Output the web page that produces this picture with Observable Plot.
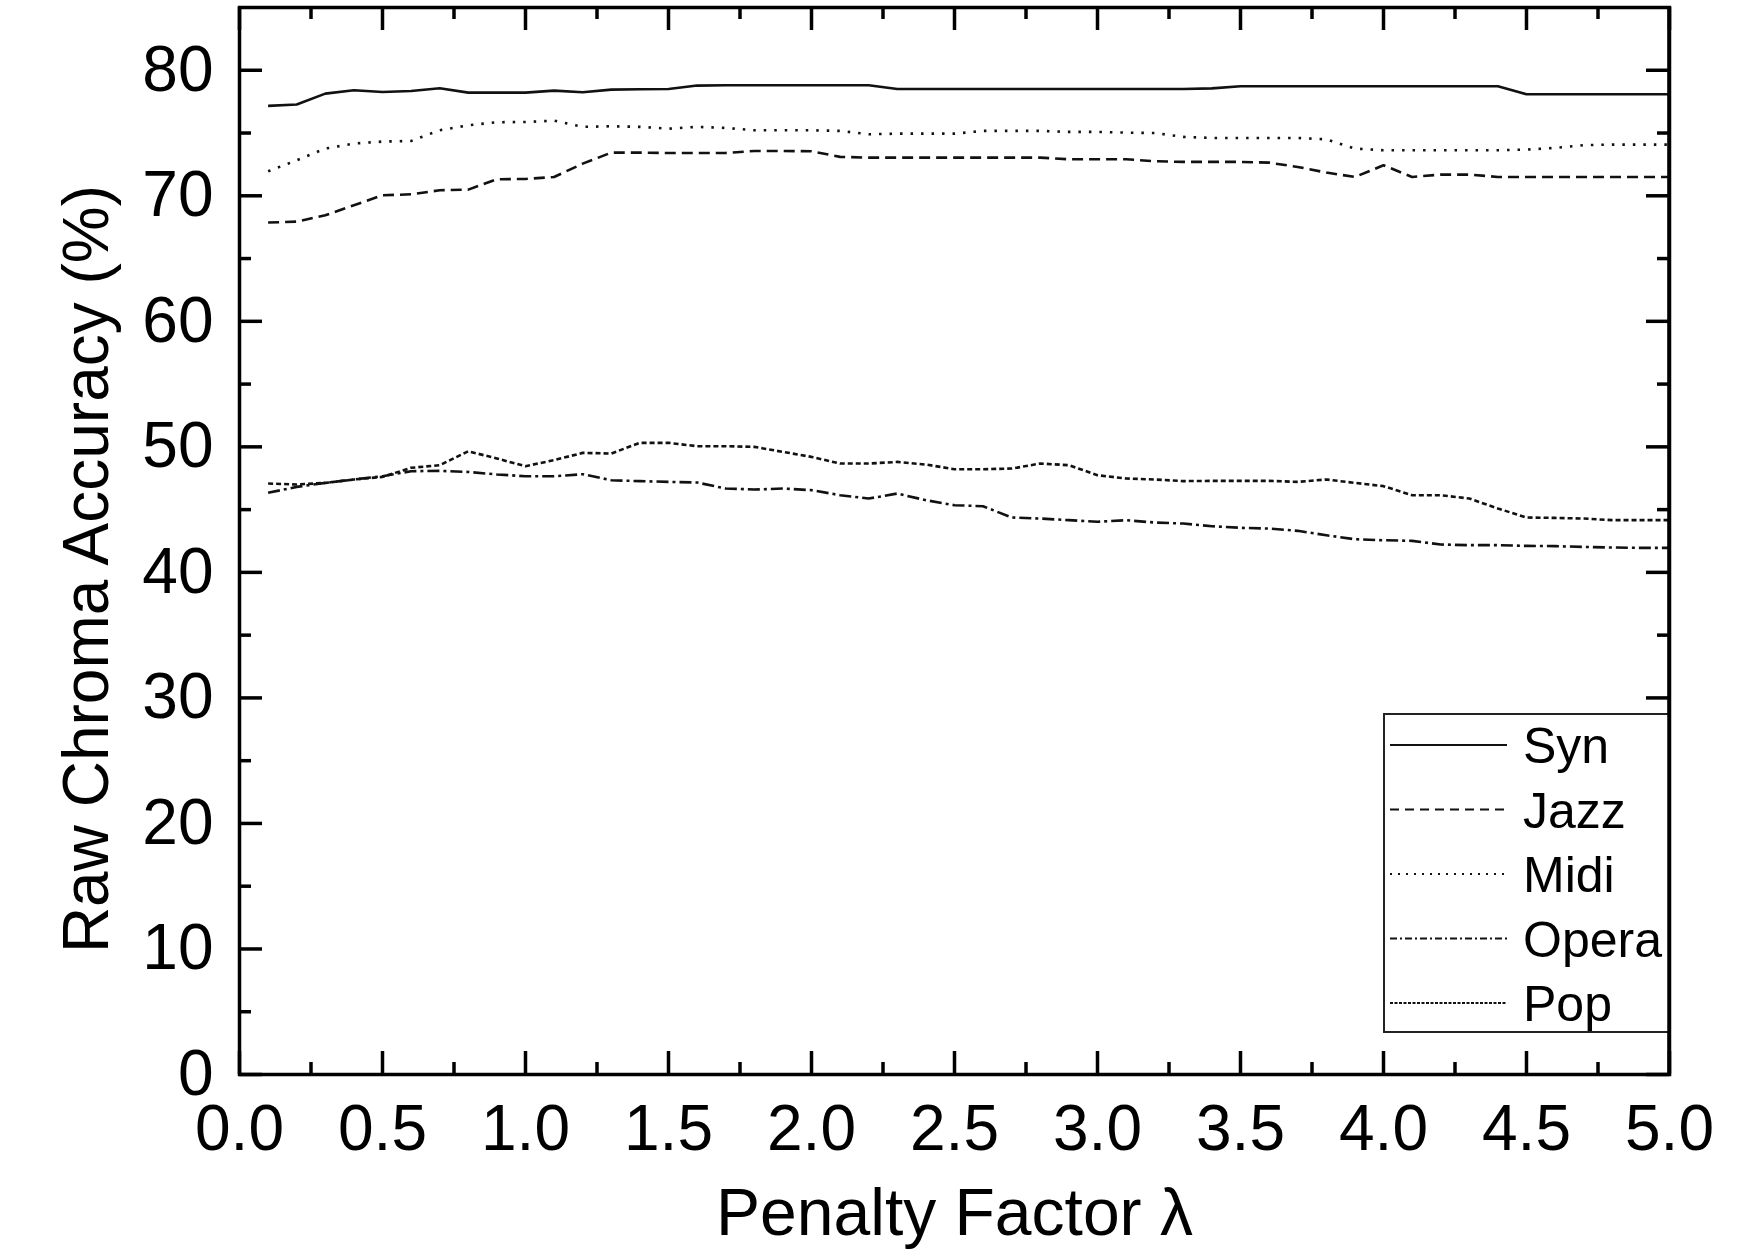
<!DOCTYPE html>
<html><head><meta charset="utf-8">
<script src="https://cdn.jsdelivr.net/npm/d3@7"></script>
<script src="https://cdn.jsdelivr.net/npm/@observablehq/plot@0.6"></script>
<style>html,body{margin:0;padding:0;background:#fff;overflow:hidden}</style>
</head><body><div id="chart"></div>
<script>
const lambda = [0.1,0.2,0.3,0.4,0.5,0.6,0.7,0.8,0.9,1.0,
  1.1,1.2,1.3,1.4,1.5,1.6,1.7,1.8,1.9,2.0,
  2.1,2.2,2.3,2.4,2.5,2.6,2.7,2.8,2.9,3.0,
  3.1,3.2,3.3,3.4,3.5,3.6,3.7,3.8,3.9,4.0,
  4.1,4.2,4.3,4.4,4.5,4.6,4.7,4.8,4.9,5.0];
const syn = [77.16,77.27,78.14,78.41,78.27,78.35,78.57,78.22,78.22,78.22,
  78.38,78.25,78.46,78.49,78.51,78.78,78.81,78.81,78.81,78.81,
  78.81,78.81,78.51,78.51,78.51,78.51,78.51,78.51,78.51,78.51,
  78.51,78.51,78.51,78.56,78.73,78.73,78.73,78.73,78.73,78.73,
  78.73,78.73,78.73,78.73,78.09,78.09,78.09,78.09,78.09,78.09];
const jazz = [67.87,67.94,68.45,69.25,70.04,70.12,70.44,70.49,71.32,71.34,
  71.5,72.56,73.44,73.44,73.41,73.41,73.41,73.57,73.57,73.55,
  73.1,73.04,73.04,73.04,73.04,73.04,73.04,73.04,72.91,72.91,
  72.91,72.75,72.7,72.7,72.7,72.64,72.3,71.85,71.5,72.43,
  71.5,71.69,71.69,71.5,71.5,71.5,71.5,71.5,71.5,71.5];
const midi = [71.95,72.83,73.76,74.16,74.32,74.37,75.22,75.62,75.86,75.88,
  75.99,75.49,75.54,75.49,75.35,75.49,75.41,75.22,75.22,75.22,
  75.17,74.9,74.95,74.95,74.95,75.17,75.17,75.17,75.09,75.09,
  75.03,75.0,74.69,74.61,74.61,74.61,74.61,74.5,73.76,73.63,
  73.63,73.63,73.63,73.63,73.68,73.81,74.03,74.08,74.08,74.08];
const opera = [46.34,46.81,47.13,47.4,47.66,48.06,48.09,48.0,47.8,47.66,
  47.66,47.82,47.34,47.27,47.21,47.16,46.68,46.6,46.68,46.55,
  46.15,45.88,46.28,45.75,45.35,45.27,44.37,44.29,44.16,44.03,
  44.16,43.97,43.89,43.68,43.55,43.49,43.31,42.96,42.64,42.56,
  42.51,42.22,42.17,42.17,42.11,42.09,42.03,41.98,41.95,41.95];
const pop = [47.08,47.0,47.13,47.4,47.61,48.33,48.54,49.65,49.07,48.46,
  48.94,49.52,49.47,50.32,50.32,50.05,50.05,50.0,49.6,49.2,
  48.67,48.67,48.8,48.59,48.22,48.22,48.27,48.67,48.54,47.74,
  47.48,47.4,47.27,47.29,47.29,47.29,47.21,47.4,47.13,46.87,
  46.15,46.15,45.88,45.09,44.37,44.34,44.29,44.16,44.16,44.16];
const seriesNames = ["Syn","Jazz","Midi","Opera","Pop"];
const seriesValues = [syn, jazz, midi, opera, pop];
const xTicks = [0,0.5,1.0,1.5,2.0,2.5,3.0,3.5,4.0,4.5,5.0];
const xMinorTicks = [0.25,0.75,1.25,1.75,2.25,2.75,3.25,3.75,4.25,4.75];
const yTicks = [0,10,20,30,40,50,60,70,80];
const yMinorTicks = [5,15,25,35,45,55,65,75];
const xTitle = "Penalty Factor λ";
const yTitle = "Raw Chroma Accuracy (%)";

// styles
const dashes = {Syn: null, Jazz: "11,6", Midi: "2.5,8", Opera: "12,4,3,4", Pop: "5,3"};
const legendDashes = {Syn: null, Jazz: "9,6", Midi: "2,6", Opera: "7,3,2,3", Pop: "3,1.5"};
const W = 1752, H = 1255;
const mL = 239, mR = 83, mT = 7, mB = 181;
const fw = W - mL - mR, fh = H - mT - mB;
const major = 23, minor = 12;
const font = "'Liberation Sans', Arial, Helvetica, sans-serif";

const rows = [];
seriesNames.forEach((s, k) => lambda.forEach((x, i) => rows.push({series: s, x, y: seriesValues[k][i]})));

const tickStyle = {stroke: "#000", strokeWidth: 3.5};
const marks = [
  Plot.tickX(xTicks, {x: d => d, insetTop: fh - major, ...tickStyle}),
  Plot.tickX(xMinorTicks, {x: d => d, insetTop: fh - minor, ...tickStyle}),
  Plot.tickX(xTicks, {x: d => d, insetBottom: fh - major, ...tickStyle}),
  Plot.tickX(xMinorTicks, {x: d => d, insetBottom: fh - minor, ...tickStyle}),
  Plot.tickY(yTicks, {y: d => d, insetRight: fw - major, ...tickStyle}),
  Plot.tickY(yMinorTicks, {y: d => d, insetRight: fw - minor, ...tickStyle}),
  Plot.tickY(yTicks, {y: d => d, insetLeft: fw - major, ...tickStyle}),
  Plot.tickY(yMinorTicks, {y: d => d, insetLeft: fw - minor, ...tickStyle}),
  Plot.axisX(xTicks, {tickSize: 0, tickPadding: 30, tickFormat: d3.format(".1f"), fontSize: 64, label: null, fill: "#000"}),
  Plot.axisY(yTicks, {tickSize: 0, tickPadding: 26, fontSize: 64, label: null, fill: "#000"}),
  ...seriesNames.map(s => Plot.line(rows.filter(r => r.series === s), {
    x: "x", y: "y", stroke: "#111", strokeWidth: 2.6,
    strokeDasharray: dashes[s], strokeLinecap: "butt", strokeLinejoin: "round", curve: "linear"
  })),
  Plot.frame({stroke: "#000", strokeWidth: 3.5}),
  Plot.text([xTitle], {text: d => d, frameAnchor: "bottom", textAnchor: "middle", lineAnchor: "bottom", dy: 160, fontSize: 66, fill: "#000"}),
  Plot.text([yTitle], {text: d => d, frameAnchor: "left", textAnchor: "middle", lineAnchor: "bottom", rotate: -90, dx: -132, dy: 28, fontSize: 64, fill: "#000"})
];

const svg = Plot.plot({
  width: W, height: H,
  marginLeft: mL, marginRight: mR, marginTop: mT, marginBottom: mB,
  x: {domain: [0, 5]},
  y: {domain: [0, 85]},
  style: {fontFamily: font, background: "#fff", color: "#000", overflow: "visible"},
  marks
});

// legend box (inside the frame, lower right)
const lg = d3.select(svg).append("g").attr("font-family", font).attr("text-anchor", "start");
const bx = 1384, by = 714, bw = W - mR - bx, bh = 1032 - 714;
lg.append("rect").attr("x", bx).attr("y", by).attr("width", bw).attr("height", bh)
  .attr("fill", "#fff").attr("stroke", "#222").attr("stroke-width", 2);
seriesNames.forEach((s, i) => {
  const yy = 745 + i * 64.5;
  lg.append("line").attr("x1", 1390).attr("x2", 1507).attr("y1", yy).attr("y2", yy)
    .attr("stroke", "#111").attr("stroke-width", 1.8)
    .attr("stroke-dasharray", legendDashes[s]);
  lg.append("text").attr("x", 1523).attr("y", yy + 18).attr("font-size", 50).attr("fill", "#000")
    .attr("text-anchor", "start").text(s);
});
d3.select(svg).append("line").attr("x1", W - mR).attr("x2", W - mR).attr("y1", mT).attr("y2", H - mB)
  .attr("stroke", "#000").attr("stroke-width", 3.5);

document.getElementById("chart").appendChild(svg);
</script>
</body></html>
